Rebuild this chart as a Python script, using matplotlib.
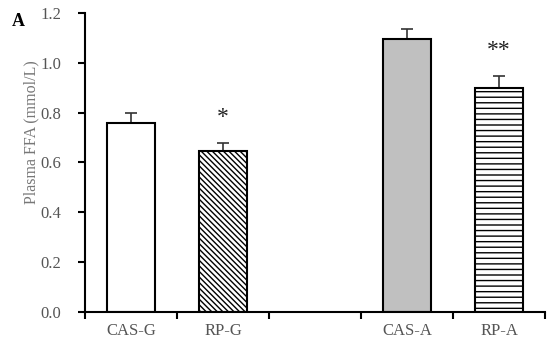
import matplotlib.pyplot as plt
import numpy as np

plt.rcParams['font.family'] = ['Liberation Serif', 'DejaVu Serif']
plt.rcParams['hatch.linewidth'] = 1.0

labels = ['CAS-G', 'RP-G', '', 'CAS-A', 'RP-A']
values = [0.757, 0.645, np.nan, 1.097, 0.899]
errors = [0.043, 0.035, 0, 0.039, 0.049]
colors = ['white', 'white', 'white', '#c0c0c0', 'white']
hatches = ['', '\\\\\\\\\\\\', '', '', '---']
stars = ['', '*', '', '', '**']

fig = plt.figure(figsize=(5.5, 3.45), dpi=100)
ax = fig.add_axes([85/550, 33/345, 460/550, 299/345])

x = np.arange(len(labels))
for i in range(len(labels)):
    if np.isnan(values[i]):
        continue
    ax.bar(x[i], values[i], width=0.52, color=colors[i], edgecolor='black',
           linewidth=1.5, hatch=hatches[i], zorder=2)
    ax.errorbar(x[i], values[i], yerr=[[0], [errors[i]]], fmt='none',
                ecolor='#333333', elinewidth=1.2, capsize=4, capthick=1.2, zorder=1)
    if stars[i]:
        ax.text(x[i], values[i] + errors[i] + 0.1, stars[i], ha='center',
                va='center', fontsize=17, color='#222222')

ax.set_xlim(-0.5, 4.5)
ax.set_ylim(0, 1.2)
ax.set_yticks(np.arange(0, 1.21, 0.2))
ax.set_yticklabels(['%.1f' % v for v in np.arange(0, 1.21, 0.2)])
ax.set_xticks(x)
ax.set_xticklabels(labels)
ax.set_xticks(np.arange(-0.5, 4.6, 1), minor=True)
ax.tick_params(axis='x', which='major', length=0, pad=8, labelsize=12, labelcolor='#555555')
ax.tick_params(axis='x', which='minor', length=5, width=1.5, direction='out')
ax.tick_params(axis='y', length=5, width=1.5, direction='out', labelsize=12,
               labelcolor='#555555', pad=12)
for s in ['top', 'right']:
    ax.spines[s].set_visible(False)
for s in ['left', 'bottom']:
    ax.spines[s].set_linewidth(1.5)

ax.set_ylabel('Plasma FFA (mmol/L)', fontsize=11.5, color='#777777')
ax.yaxis.set_label_coords(-0.1, 0.6)
fig.text(12/550, 1 - 22/345, 'A', fontsize=13, fontweight='bold', va='center')

fig.savefig('out.png', dpi=100)
